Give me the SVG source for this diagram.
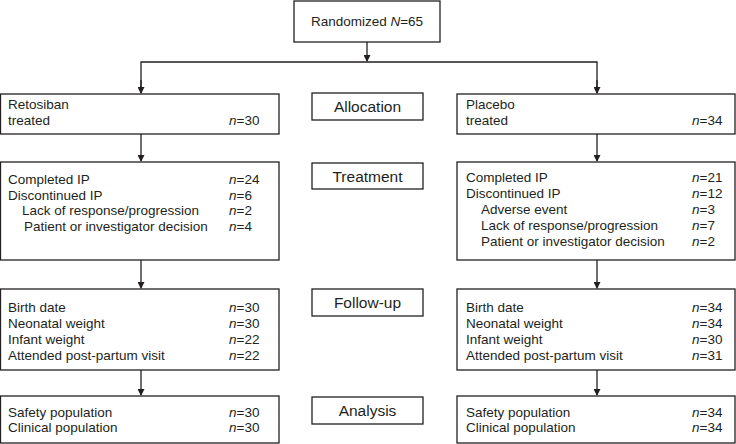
<svg xmlns="http://www.w3.org/2000/svg" width="736" height="444" viewBox="0 0 736 444">
<style>
  rect { fill: #fff; stroke: #231f20; stroke-width: 1.3; }
  text { font-family: "Liberation Sans", Arial, sans-serif; font-size: 13.5px; fill: #231f20; }
  .c { text-anchor: middle; }
  .s { font-size: 15.5px; }
  .n { font-style: italic; }
  .ln { stroke: #231f20; stroke-width: 1.3; fill: none; }
</style>
<defs>
  <marker id="ah" markerWidth="7" markerHeight="7" refX="6" refY="3.5" orient="auto" markerUnits="userSpaceOnUse">
    <path d="M0,0 L7,3.5 L0,7 Z" fill="#231f20"/>
  </marker>
</defs>
<g id="connectors">
  <line class="ln" x1="367" y1="42" x2="367" y2="61" marker-end="url(#ah)"/>
  <polyline class="ln" points="141,93 141,62 597,62 597,93" />
  <line class="ln" x1="141" y1="80" x2="141" y2="93" marker-end="url(#ah)"/>
  <line class="ln" x1="597" y1="80" x2="597" y2="93" marker-end="url(#ah)"/>
  <line class="ln" x1="141" y1="134" x2="141" y2="161" marker-end="url(#ah)"/>
  <line class="ln" x1="597" y1="134" x2="597" y2="161" marker-end="url(#ah)"/>
  <line class="ln" x1="141" y1="260" x2="141" y2="288" marker-end="url(#ah)"/>
  <line class="ln" x1="597" y1="260" x2="597" y2="288" marker-end="url(#ah)"/>
  <line class="ln" x1="141" y1="370" x2="141" y2="395" marker-end="url(#ah)"/>
  <line class="ln" x1="597" y1="370" x2="597" y2="395" marker-end="url(#ah)"/>
</g>
<g id="randomized">
  <rect x="294" y="1" width="146" height="41"/>
  <text x="367" y="26" class="c">Randomized <tspan class="n">N</tspan>=65</text>
</g>
<g id="allocation">
  <rect x="312" y="93" width="111" height="27"/>
  <text x="367.5" y="112" class="c s">Allocation</text>
</g>
<g id="treatment">
  <rect x="312" y="163" width="111" height="26"/>
  <text x="367.5" y="181.5" class="c s">Treatment</text>
</g>
<g id="followup">
  <rect x="312" y="289" width="111" height="27"/>
  <text x="367.5" y="308" class="c s">Follow-up</text>
</g>
<g id="analysis">
  <rect x="312" y="397" width="111" height="27"/>
  <text x="367.5" y="416" class="c s">Analysis</text>
</g>
<g id="retosiban">
  <rect x="0.5" y="94" width="278.5" height="40"/>
  <text x="8" y="109">Retosiban</text>
  <text x="8" y="125">treated</text>
  <text x="229" y="125"><tspan class="n">n</tspan>=30</text>
</g>
<g id="placebo">
  <rect x="457" y="94" width="278" height="40"/>
  <text x="466" y="109">Placebo</text>
  <text x="466" y="125">treated</text>
  <text x="692" y="125"><tspan class="n">n</tspan>=34</text>
</g>
<g id="retosiban-treatment">
  <rect x="0.5" y="162" width="278.5" height="98"/>
  <text x="8" y="184">Completed IP</text>
  <text x="229" y="184"><tspan class="n">n</tspan>=24</text>
  <text x="8" y="200">Discontinued IP</text>
  <text x="229" y="200"><tspan class="n">n</tspan>=6</text>
  <text x="22" y="215">Lack of response/progression</text>
  <text x="229" y="215"><tspan class="n">n</tspan>=2</text>
  <text x="24" y="231">Patient or investigator decision</text>
  <text x="229" y="231"><tspan class="n">n</tspan>=4</text>
</g>
<g id="placebo-treatment">
  <rect x="457" y="162" width="278" height="98"/>
  <text x="466" y="182">Completed IP</text>
  <text x="692" y="182"><tspan class="n">n</tspan>=21</text>
  <text x="466" y="198">Discontinued IP</text>
  <text x="692" y="198"><tspan class="n">n</tspan>=12</text>
  <text x="481" y="214">Adverse event</text>
  <text x="692" y="214"><tspan class="n">n</tspan>=3</text>
  <text x="481" y="230">Lack of response/progression</text>
  <text x="692" y="230"><tspan class="n">n</tspan>=7</text>
  <text x="481" y="246">Patient or investigator decision</text>
  <text x="692" y="246"><tspan class="n">n</tspan>=2</text>
</g>
<g id="retosiban-followup">
  <rect x="0.5" y="289" width="278.5" height="81"/>
  <text x="8" y="312">Birth date</text>
  <text x="229" y="312"><tspan class="n">n</tspan>=30</text>
  <text x="8" y="328">Neonatal weight</text>
  <text x="229" y="328"><tspan class="n">n</tspan>=30</text>
  <text x="8" y="344">Infant weight</text>
  <text x="229" y="344"><tspan class="n">n</tspan>=22</text>
  <text x="8" y="360">Attended post-partum visit</text>
  <text x="229" y="360"><tspan class="n">n</tspan>=22</text>
</g>
<g id="placebo-followup">
  <rect x="457" y="289" width="278" height="81"/>
  <text x="466" y="312">Birth date</text>
  <text x="692" y="312"><tspan class="n">n</tspan>=34</text>
  <text x="466" y="328">Neonatal weight</text>
  <text x="692" y="328"><tspan class="n">n</tspan>=34</text>
  <text x="466" y="344">Infant weight</text>
  <text x="692" y="344"><tspan class="n">n</tspan>=30</text>
  <text x="466" y="360">Attended post-partum visit</text>
  <text x="692" y="360"><tspan class="n">n</tspan>=31</text>
</g>
<g id="retosiban-analysis">
  <rect x="0.5" y="396" width="278.5" height="47"/>
  <text x="8" y="417">Safety population</text>
  <text x="229" y="417"><tspan class="n">n</tspan>=30</text>
  <text x="8" y="432">Clinical population</text>
  <text x="229" y="432"><tspan class="n">n</tspan>=30</text>
</g>
<g id="placebo-analysis">
  <rect x="457" y="396" width="278" height="47"/>
  <text x="466" y="417">Safety population</text>
  <text x="692" y="417"><tspan class="n">n</tspan>=34</text>
  <text x="466" y="432">Clinical population</text>
  <text x="692" y="432"><tspan class="n">n</tspan>=34</text>
</g>
</svg>
